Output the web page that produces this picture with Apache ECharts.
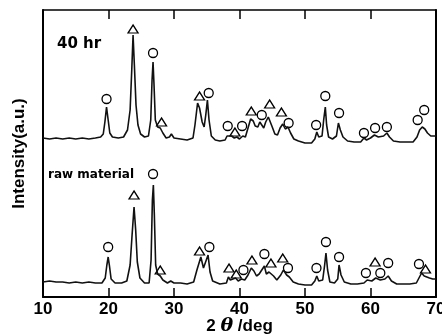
<!DOCTYPE html>
<html>
<head>
<meta charset="utf-8">
<script src="https://cdn.jsdelivr.net/npm/echarts@6/dist/echarts.min.js"></script>
<style>
  html, body { margin: 0; background: #fff; }
  #chart { width: 442px; height: 336px; }
</style>
</head>
<body>
<div id="chart"></div>
<script>
// XRD patterns, [2θ (deg), intensity (a.u.)]
const hr40Trace = [
  [10.0,159],[11.0,158],[12.0,159],[13.0,158],[14.0,159],[15.0,158],[16.0,159],[17.0,158],[18.0,159],
  [18.8,160],[19.2,163],[19.45,175],[19.7,190],[19.95,177],[20.2,164],[20.6,160],[21.5,159],[22.3,160],
  [22.9,167],[23.3,187],[23.55,227],[23.75,262],[23.95,232],[24.2,192],[24.5,172],[24.9,163],[25.5,160],
  [26.1,161],[26.45,177],[26.65,217],[26.8,235],[26.95,212],[27.15,177],[27.5,170],[27.9,169],[28.3,164],
  [28.8,159],[29.3,160],[29.6,163],[30.0,159],[31.0,158],[32.0,157],[32.9,159],[33.2,172],[33.6,194],
  [33.9,189],[34.3,175],[34.6,170],[34.85,182],[35.1,197],[35.35,177],[35.7,161],[36.3,157],[37.0,156],
  [37.8,157],[38.1,161],[38.4,159],[38.8,161],[39.2,159],[39.6,160],[40.0,158],[40.5,161],[40.9,160],
  [41.3,169],[41.7,178],[42.1,176],[42.4,171],[42.8,170],[43.1,175],[43.4,176],[43.7,169],[44.0,175],
  [44.4,180],[44.7,178],[45.0,170],[45.4,163],[45.8,162],[46.2,169],[46.6,173],[47.0,168],[47.4,170],
  [47.8,164],[48.3,158],[49.0,156],[50.0,154],[51.0,154],[51.5,158],[51.8,165],[52.1,160],[52.6,161],
  [52.85,177],[53.1,190],[53.3,172],[53.6,160],[54.2,158],[54.8,161],[55.1,174],[55.4,167],[55.8,160],
  [56.5,156],[57.5,155],[58.5,155],[59.0,159],[59.4,157],[60.0,159],[60.6,162],[61.2,160],[62.0,161],
  [62.5,164],[62.9,160],[63.5,156],[64.5,155],[65.5,155],[66.5,155],[67.1,160],[67.5,167],[67.9,170],
  [68.3,168],[68.7,164],[69.2,161],[70.0,161]
];
const rawTrace = [
  [10.0,15],[11.0,16],[12.0,15],[13.0,15],[14.0,14],[15.0,15],[16.0,14],[17.0,15],[18.0,14],[19.0,14],
  [19.5,19],[19.75,32],[19.95,40],[20.15,31],[20.4,18],[21.0,14],[22.0,14],[22.8,16],[23.3,32],[23.6,62],
  [23.9,90],[24.15,67],[24.4,35],[24.8,19],[25.5,14],[26.2,14],[26.5,37],[26.7,97],[26.85,112],[27.0,82],
  [27.2,32],[27.5,23],[27.9,21],[28.3,17],[29.0,14],[29.5,16],[30.0,14],[31.0,14],[32.0,13],[33.0,15],
  [33.5,27],[34.1,40],[34.5,29],[34.8,27],[35.2,42],[35.5,25],[35.9,16],[37.0,13],[38.0,14],[38.3,20],
  [38.6,17],[39.0,18],[39.4,19],[39.8,16],[40.3,18],[40.8,17],[41.3,22],[41.8,29],[42.2,26],[42.6,21],
  [43.0,23],[43.4,27],[43.8,31],[44.1,23],[44.5,25],[44.8,26],[45.2,21],[45.7,17],[46.3,22],[46.7,27],
  [47.2,22],[47.6,20],[48.2,15],[49.0,13],[50.0,12],[51.0,12],[51.5,16],[51.8,21],[52.1,16],[52.7,17],
  [53.0,32],[53.2,44],[53.45,27],[53.8,15],[54.5,14],[55.0,18],[55.2,32],[55.5,22],[56.0,15],[57.0,13],
  [58.0,13],[59.0,14],[59.5,17],[60.2,16],[60.8,19],[61.5,17],[62.2,18],[62.7,21],[63.2,16],[64.0,13],
  [65.0,13],[66.0,13],[67.0,14],[67.4,19],[67.8,24],[68.2,21],[68.5,23],[69.0,19],[69.5,18],[70.0,18]
];

// phase markers: ○ and △ above the reflections
const hr40Circles = [
  [19.7,198],[26.8,244],[35.3,204],[38.2,171],[40.4,171],[43.4,182],[47.5,174],[51.7,172],
  [53.1,201],[55.2,184],[59.0,164],[60.7,169],[62.5,170],[67.2,177],[68.2,187]
];
const hr40Triangles = [
  [23.75,268],[28.1,175],[33.9,201],[39.3,165],[41.8,186],[44.6,193],[46.4,185]
];
const rawCircles = [
  [19.95,50],[26.8,123],[35.4,50],[40.6,27],[43.8,43],[47.4,29],[51.75,29],[53.2,55],
  [55.2,40],[59.3,24],[61.5,24],[62.7,34],[67.4,33]
];
const rawTriangles = [
  [23.9,102],[27.9,27],[33.9,46],[38.4,29],[39.5,23],[41.9,37],[44.8,34],[46.6,39],[60.7,35],[68.4,28]
];

const FONT = 'Liberation Sans, Arial, sans-serif';

const chart = echarts.init(document.getElementById('chart'));

const traceSeries = data => ({
  type: 'line', data, symbol: 'none', silent: true,
  lineStyle: { color: '#111', width: 1.6 }
});
const markerSeries = (data, symbol, size) => ({
  type: 'scatter', data, symbol, symbolSize: size, silent: true,
  itemStyle: { color: '#fff', borderColor: '#000', borderWidth: 1.3, opacity: 1 }
});

chart.setOption({
  animation: false,
  backgroundColor: '#fff',
  grid: { left: 43, right: 6, top: 10, bottom: 39, outerBoundsMode: 'none', containLabel: false },
  xAxis: [{
    type: 'value', min: 10, max: 70, interval: 10, position: 'bottom',
    axisLine: { onZero: false, lineStyle: { color: '#000', width: 2 } },
    axisTick: { inside: true, length: 9, lineStyle: { color: '#000', width: 1.5 } },
    axisLabel: { color: '#000', fontSize: 17, fontWeight: 'bold', fontFamily: FONT, margin: 4 },
    splitLine: { show: false },
    name: '2 {i|θ} /deg', nameLocation: 'middle', nameGap: 21, nameMoveOverlap: false,
    nameTextStyle: {
      color: '#000', fontSize: 17, fontWeight: 'bold', fontFamily: FONT, lineHeight: 17,
      rich: { i: { color: '#000', fontSize: 19, lineHeight: 17, fontStyle: 'italic', fontFamily: 'DejaVu Serif' } }
    }
  }, {
    type: 'value', min: 10, max: 70, interval: 10, position: 'top',
    axisLine: { onZero: false, lineStyle: { color: '#000', width: 1.5 } },
    axisTick: { inside: true, length: 9, lineStyle: { color: '#000', width: 1.5 } },
    axisLabel: { show: false }, splitLine: { show: false }
  }],
  yAxis: [{
    type: 'value', min: 0, max: 287, position: 'left',
    axisLine: { show: true, onZero: false, lineStyle: { color: '#000', width: 2 } },
    axisTick: { show: false }, axisLabel: { show: false }, splitLine: { show: false },
    name: 'Intensity(a.u.)', nameLocation: 'middle', nameGap: 15, nameMoveOverlap: false,
    nameTextStyle: { color: '#000', fontSize: 17, fontWeight: 'bold', fontFamily: FONT }
  }, {
    type: 'value', min: 0, max: 287, position: 'right',
    axisLine: { show: true, onZero: false, lineStyle: { color: '#000', width: 2 } },
    axisTick: { show: false }, axisLabel: { show: false }, splitLine: { show: false }
  }],
  graphic: [
    { type: 'text', left: 57, top: 37, style: { text: '40 hr', fill: '#000', font: 'bold 15px DejaVu Sans' } },
    { type: 'text', left: 48, top: 169, style: { text: 'raw material', fill: '#000', font: 'bold 12px DejaVu Sans' } }
  ],
  series: [
    traceSeries(hr40Trace),
    traceSeries(rawTrace),
    markerSeries(hr40Circles, 'circle', 9),
    markerSeries(rawCircles, 'circle', 9),
    markerSeries(hr40Triangles, 'triangle', [10, 8]),
    markerSeries(rawTriangles, 'triangle', [10, 8])
  ]
});
</script>
</body>
</html>
